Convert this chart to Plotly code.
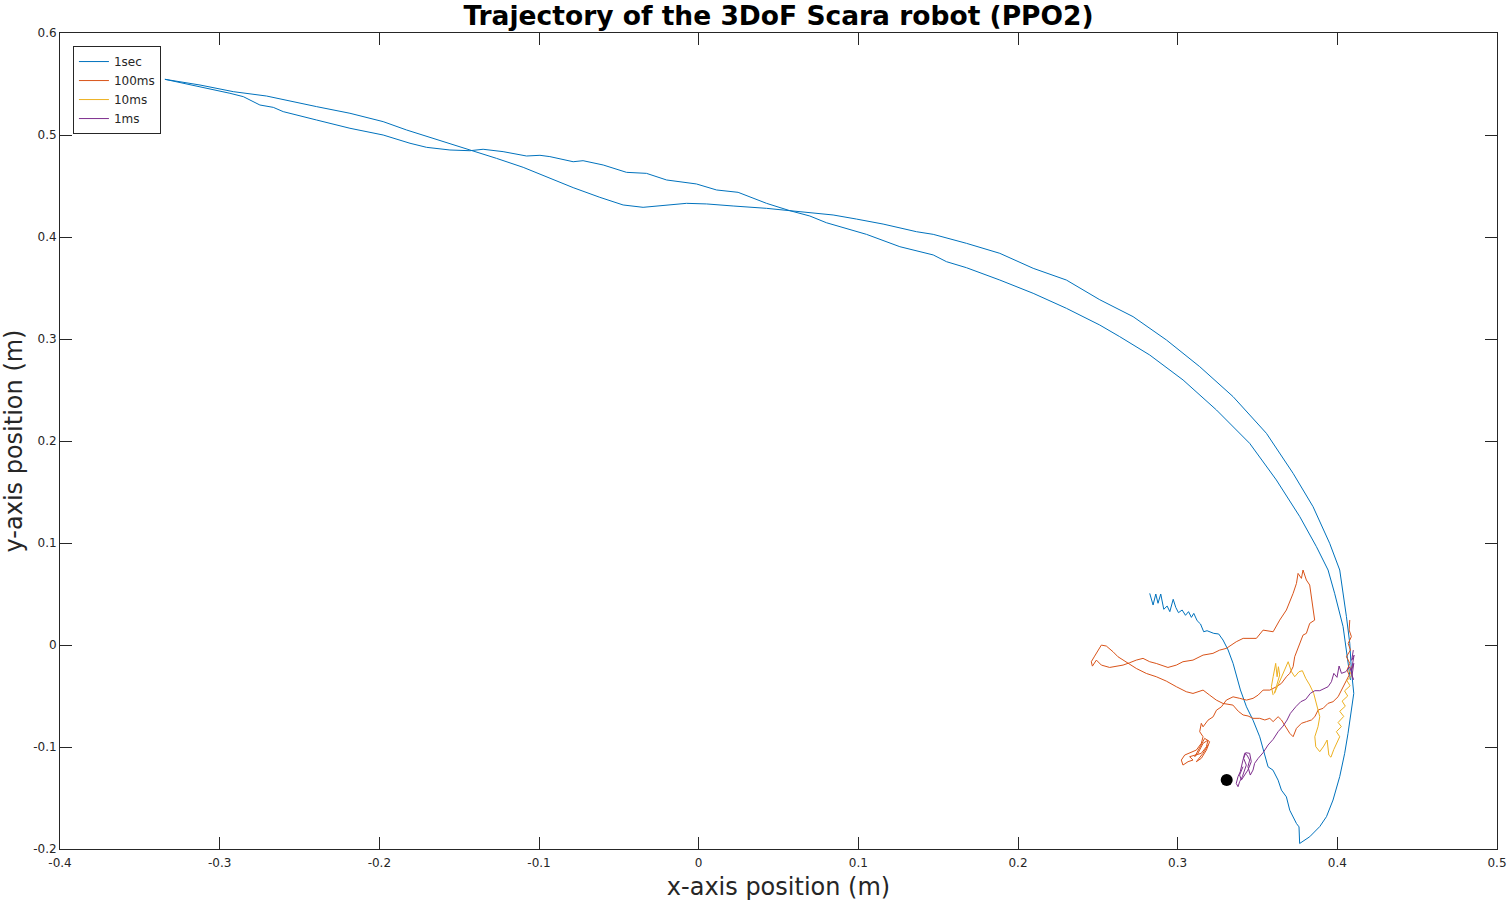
import plotly.graph_objects as go

# end effector paths, (x, y) in metres
traj_1sec = [
    (0.2825, 0.0506), (0.2846, 0.0392), (0.2863, 0.0500), (0.2877, 0.0409), (0.2894, 0.0500),
    (0.2913, 0.0350), (0.2934, 0.0382), (0.2951, 0.0327), (0.2972, 0.0448), (0.2988, 0.0369),
    (0.3005, 0.0317), (0.3028, 0.0343), (0.3049, 0.0291), (0.3068, 0.0327), (0.3086, 0.0271),
    (0.3101, 0.0310), (0.3122, 0.0238), (0.3143, 0.0206), (0.3163, 0.0130), (0.3184, 0.0140),
    (0.3226, 0.0114), (0.3257, 0.0108), (0.3284, 0.0049), (0.3316, -0.0049), (0.3347, -0.0180),
    (0.3378, -0.0343), (0.3393, -0.0441), (0.3431, -0.0606), (0.3472, -0.0737), (0.3514, -0.0900),
    (0.3545, -0.1064), (0.3566, -0.1194), (0.3597, -0.1227), (0.3629, -0.1325), (0.3650, -0.1423),
    (0.3681, -0.1489), (0.3702, -0.1620), (0.3723, -0.1685), (0.3744, -0.1750), (0.3760, -0.1783),
    (0.3764, -0.1946), (0.3827, -0.1880), (0.3890, -0.1780), (0.3932, -0.1683), (0.3973, -0.1520),
    (0.4015, -0.1290), (0.4046, -0.1062), (0.4067, -0.0866), (0.4088, -0.0637), (0.4103, -0.0474),
    (0.4088, -0.0245), (0.4078, 0.0016), (0.4057, 0.0278), (0.4036, 0.0507), (0.4015, 0.0735),
    (0.3952, 0.0997), (0.3848, 0.1356), (0.3723, 0.1683), (0.3556, 0.2075), (0.3347, 0.2435),
    (0.3138, 0.2729), (0.2930, 0.2990), (0.2721, 0.3219), (0.2512, 0.3385), (0.2303, 0.3578),
    (0.2095, 0.3693), (0.1886, 0.3840), (0.1677, 0.3938), (0.1469, 0.4026), (0.1364, 0.4052),
    (0.1155, 0.4127), (0.0988, 0.4176), (0.0842, 0.4216), (0.0571, 0.4258), (0.0425, 0.4281),
    (0.0216, 0.4304), (0.0050, 0.4324), (-0.0076, 0.4330), (-0.0201, 0.4314), (-0.0348, 0.4291),
    (-0.0473, 0.4314), (-0.0619, 0.4389), (-0.0786, 0.4484), (-0.0932, 0.4575), (-0.1099, 0.4683),
    (-0.1266, 0.4771), (-0.1433, 0.4853), (-0.1662, 0.4968), (-0.1829, 0.5049), (-0.1976, 0.5131),
    (-0.2184, 0.5213), (-0.2393, 0.5278), (-0.2539, 0.5327), (-0.2706, 0.5382), (-0.2915, 0.5425),
    (-0.3123, 0.5490), (-0.3343, 0.5546), (-0.3123, 0.5474), (-0.2936, 0.5409), (-0.2852, 0.5376),
    (-0.2748, 0.5294), (-0.2664, 0.5271), (-0.2602, 0.5229), (-0.2393, 0.5147), (-0.2184, 0.5066),
    (-0.1976, 0.5000), (-0.1808, 0.4919), (-0.1704, 0.4879), (-0.1558, 0.4853), (-0.1433, 0.4846),
    (-0.1350, 0.4860), (-0.1225, 0.4837), (-0.1078, 0.4794), (-0.0994, 0.4801), (-0.0932, 0.4788),
    (-0.0786, 0.4738), (-0.0724, 0.4748), (-0.0598, 0.4706), (-0.0452, 0.4634), (-0.0327, 0.4624),
    (-0.0201, 0.4559), (-0.0014, 0.4520), (0.0112, 0.4461), (0.0247, 0.4438), (0.0425, 0.4330),
    (0.0571, 0.4258), (0.0696, 0.4206), (0.0800, 0.4140), (0.0925, 0.4085), (0.1051, 0.4026),
    (0.1260, 0.3905), (0.1469, 0.3824), (0.1552, 0.3758), (0.1677, 0.3699), (0.1886, 0.3578),
    (0.2095, 0.3448), (0.2303, 0.3301), (0.2512, 0.3137), (0.2637, 0.3023), (0.2825, 0.2843),
    (0.3034, 0.2598), (0.3243, 0.2304), (0.3451, 0.1977), (0.3618, 0.1618), (0.3765, 0.1258),
    (0.3869, 0.0964), (0.3942, 0.0735), (0.3983, 0.0507), (0.4036, 0.0180), (0.4067, -0.0147),
    (0.4078, -0.0278), (0.4082, -0.0343),
]

traj_100ms = [
    (0.4078, 0.0245), (0.4074, 0.0147), (0.4088, 0.0082), (0.4068, 0.0016), (0.4082, -0.0049),
    (0.4057, -0.0115), (0.4078, -0.0180), (0.4061, -0.0246), (0.4074, -0.0295), (0.4057, -0.0344),
    (0.4026, -0.0441), (0.4005, -0.0507), (0.3973, -0.0556), (0.3942, -0.0572), (0.3911, -0.0621),
    (0.3880, -0.0637), (0.3859, -0.0703), (0.3838, -0.0735), (0.3807, -0.0751), (0.3775, -0.0768),
    (0.3744, -0.0817), (0.3723, -0.0899), (0.3702, -0.0866), (0.3681, -0.0817), (0.3650, -0.0735),
    (0.3629, -0.0703), (0.3598, -0.0751), (0.3577, -0.0719), (0.3546, -0.0735), (0.3514, -0.0719),
    (0.3472, -0.0719), (0.3441, -0.0696), (0.3410, -0.0686), (0.3380, -0.0650), (0.3346, -0.0589),
    (0.3284, -0.0573), (0.3242, -0.0540), (0.3200, -0.0491), (0.3159, -0.0442), (0.3096, -0.0475),
    (0.3054, -0.0458), (0.2992, -0.0409), (0.2929, -0.0354), (0.2866, -0.0311), (0.2804, -0.0279),
    (0.2741, -0.0230), (0.2699, -0.0187), (0.2658, -0.0148), (0.2626, -0.0115), (0.2595, -0.0066),
    (0.2553, -0.0010), (0.2522, -0.0001), (0.2501, -0.0050), (0.2480, -0.0109), (0.2459, -0.0164),
    (0.2466, -0.0207), (0.2491, -0.0148), (0.2522, -0.0197), (0.2574, -0.0220), (0.2637, -0.0207),
    (0.2658, -0.0197), (0.2699, -0.0174), (0.2741, -0.0148), (0.2783, -0.0131), (0.2825, -0.0164),
    (0.2866, -0.0181), (0.2939, -0.0220), (0.2992, -0.0197), (0.3033, -0.0164), (0.3096, -0.0148),
    (0.3159, -0.0099), (0.3221, -0.0082), (0.3263, -0.0050), (0.3305, -0.0033), (0.3367, 0.0032),
    (0.3410, 0.0065), (0.3493, 0.0065), (0.3535, 0.0146), (0.3598, 0.0130), (0.3639, 0.0244),
    (0.3681, 0.0343), (0.3723, 0.0506), (0.3744, 0.0604), (0.3754, 0.0702), (0.3775, 0.0653),
    (0.3785, 0.0735), (0.3806, 0.0637), (0.3827, 0.0588), (0.3838, 0.0473), (0.3858, 0.0244),
    (0.3827, 0.0212), (0.3806, 0.0114), (0.3785, 0.0097), (0.3754, -0.0034), (0.3733, -0.0115),
    (0.3723, -0.0213), (0.3702, -0.0278), (0.3681, -0.0311), (0.3650, -0.0376), (0.3619, -0.0409),
    (0.3577, -0.0442), (0.3535, -0.0442), (0.3504, -0.0491), (0.3472, -0.0523), (0.3431, -0.0540),
    (0.3389, -0.0523), (0.3347, -0.0508), (0.3305, -0.0540), (0.3274, -0.0606), (0.3243, -0.0639),
    (0.3222, -0.0704), (0.3190, -0.0737), (0.3159, -0.0802), (0.3148, -0.0768), (0.3138, -0.0850),
    (0.3159, -0.0899), (0.3148, -0.0964), (0.3117, -0.1030), (0.3075, -0.1062), (0.3044, -0.1079),
    (0.3023, -0.1128), (0.3033, -0.1177), (0.3065, -0.1144), (0.3096, -0.1128), (0.3075, -0.1095),
    (0.3117, -0.1079), (0.3148, -0.1062), (0.3180, -0.0997), (0.3190, -0.0932), (0.3159, -0.0964),
    (0.3127, -0.1062), (0.3107, -0.1095), (0.3138, -0.0997), (0.3169, -0.0915), (0.3200, -0.0948),
    (0.3180, -0.1030), (0.3148, -0.1111), (0.3117, -0.1144), (0.3159, -0.1062), (0.3190, -0.0981),
]

traj_10ms = [
    (0.3598, -0.0491), (0.3587, -0.0409), (0.3598, -0.0311), (0.3608, -0.0229), (0.3614, -0.0180),
    (0.3623, -0.0311), (0.3631, -0.0213), (0.3639, -0.0294), (0.3619, -0.0409), (0.3606, -0.0474),
    (0.3629, -0.0392), (0.3650, -0.0311), (0.3671, -0.0229), (0.3692, -0.0164), (0.3713, -0.0262),
    (0.3733, -0.0311), (0.3760, -0.0262), (0.3781, -0.0252), (0.3802, -0.0327), (0.3827, -0.0392),
    (0.3852, -0.0474), (0.3873, -0.0589), (0.3890, -0.0703), (0.3879, -0.0801), (0.3859, -0.0899),
    (0.3865, -0.0997), (0.3890, -0.1046), (0.3915, -0.0991), (0.3936, -0.0932), (0.3947, -0.1080),
    (0.3960, -0.1100), (0.3978, -0.1024), (0.3994, -0.0965), (0.4015, -0.0899), (0.3994, -0.0850),
    (0.4025, -0.0800), (0.4005, -0.0760), (0.4040, -0.0700), (0.4015, -0.0650), (0.4050, -0.0600),
    (0.4030, -0.0550), (0.4065, -0.0500), (0.4045, -0.0450), (0.4080, -0.0400), (0.4060, -0.0350),
    (0.4090, -0.0300), (0.4075, -0.0250), (0.4095, -0.0200),
]

traj_1ms = [
    (0.4100, -0.0050), (0.4090, -0.0150), (0.4105, -0.0100), (0.4088, -0.0250), (0.4103, -0.0180),
    (0.4092, -0.0300), (0.4100, -0.0340), (0.4078, -0.0213), (0.4053, -0.0262), (0.4026, -0.0278),
    (0.4011, -0.0206), (0.3998, -0.0317), (0.3978, -0.0278), (0.3963, -0.0360), (0.3942, -0.0409),
    (0.3915, -0.0432), (0.3890, -0.0448), (0.3859, -0.0448), (0.3831, -0.0474), (0.3802, -0.0533),
    (0.3771, -0.0556), (0.3740, -0.0605), (0.3706, -0.0670), (0.3685, -0.0736), (0.3660, -0.0795),
    (0.3629, -0.0850), (0.3598, -0.0925), (0.3566, -0.0981), (0.3535, -0.1056), (0.3504, -0.1112),
    (0.3482, -0.1160), (0.3472, -0.1226), (0.3455, -0.1275), (0.3440, -0.1193), (0.3451, -0.1128),
    (0.3434, -0.1079), (0.3420, -0.1062), (0.3409, -0.1128), (0.3399, -0.1193), (0.3392, -0.1242),
    (0.3378, -0.1291), (0.3367, -0.1357), (0.3378, -0.1389), (0.3388, -0.1340), (0.3405, -0.1291),
    (0.3420, -0.1226), (0.3430, -0.1177), (0.3413, -0.1111), (0.3426, -0.1056), (0.3451, -0.1062),
    (0.3461, -0.1144), (0.3440, -0.1226), (0.3420, -0.1275), (0.3399, -0.1324), (0.3388, -0.1275),
    (0.3409, -0.1193),
]

target = (0.3307, -0.1324)

series_names = ['1sec', '100ms', '10ms', '1ms']
series_colors = ['#0072BD', '#D95319', '#EDB120', '#7E2F8E']

x_ticks = [-0.4, -0.3, -0.2, -0.1, 0, 0.1, 0.2, 0.3, 0.4, 0.5]
x_labels = ['-0.4', '-0.3', '-0.2', '-0.1', '0', '0.1', '0.2', '0.3', '0.4', '0.5']
y_ticks = [-0.2, -0.1, 0, 0.1, 0.2, 0.3, 0.4, 0.5, 0.6]
y_labels = ['-0.2', '-0.1', '0', '0.1', '0.2', '0.3', '0.4', '0.5', '0.6']

ink = '#262626'
font = 'DejaVu Sans'

fig = go.Figure()

for name, color, path in zip(series_names, series_colors,
                             [traj_1sec, traj_100ms, traj_10ms, traj_1ms]):
    xs = [p[0] for p in path]
    ys = [p[1] for p in path]
    fig.add_trace(go.Scatter(x=xs, y=ys, mode='lines', name=name,
                             line=dict(color=color, width=1)))

fig.add_trace(go.Scatter(x=[target[0]], y=[target[1]], mode='markers',
                         marker=dict(color='black', size=12), showlegend=False))

axis_style = dict(showline=True, linecolor=ink, linewidth=1, mirror='ticks',
                  ticks='inside', ticklen=12, tickwidth=1, tickcolor=ink,
                  showgrid=False, zeroline=False, automargin=False,
                  tickfont=dict(family=font, size=12, color=ink))

fig.update_xaxes(range=[-0.4, 0.5], tickvals=x_ticks, ticktext=x_labels,
                 ticklabelstandoff=3,
                 title=dict(text='x-axis position (m)', font=dict(family=font, size=24, color=ink),
                            standoff=9),
                 **axis_style)
fig.update_yaxes(range=[-0.2, 0.6], tickvals=y_ticks, ticktext=y_labels,
                 title=dict(text='y-axis position (m)', font=dict(family=font, size=24, color=ink),
                            standoff=6),
                 **axis_style)

fig.update_layout(
    width=1508, height=901,
    margin=dict(l=60, r=11, t=33, b=52),
    paper_bgcolor='white', plot_bgcolor='white',
    font=dict(family=font, color=ink),
    title=dict(text='<b>Trajectory of the 3DoF Scara robot (PPO2)</b>',
               font=dict(family=font, size=26.5, color='black'),
               x=0.5, xref='paper', xanchor='center',
               y=0.982, yref='container', yanchor='middle'),
    legend=dict(x=0.009, y=0.984, xanchor='left', yanchor='top',
                bgcolor='white', bordercolor=ink, borderwidth=1,
                font=dict(family=font, size=12, color=ink),
                tracegroupgap=0, itemwidth=30),
)

fig.write_html("out.html", config={'displayModeBar': False},
               post_script="document.body.style.margin='0';")
